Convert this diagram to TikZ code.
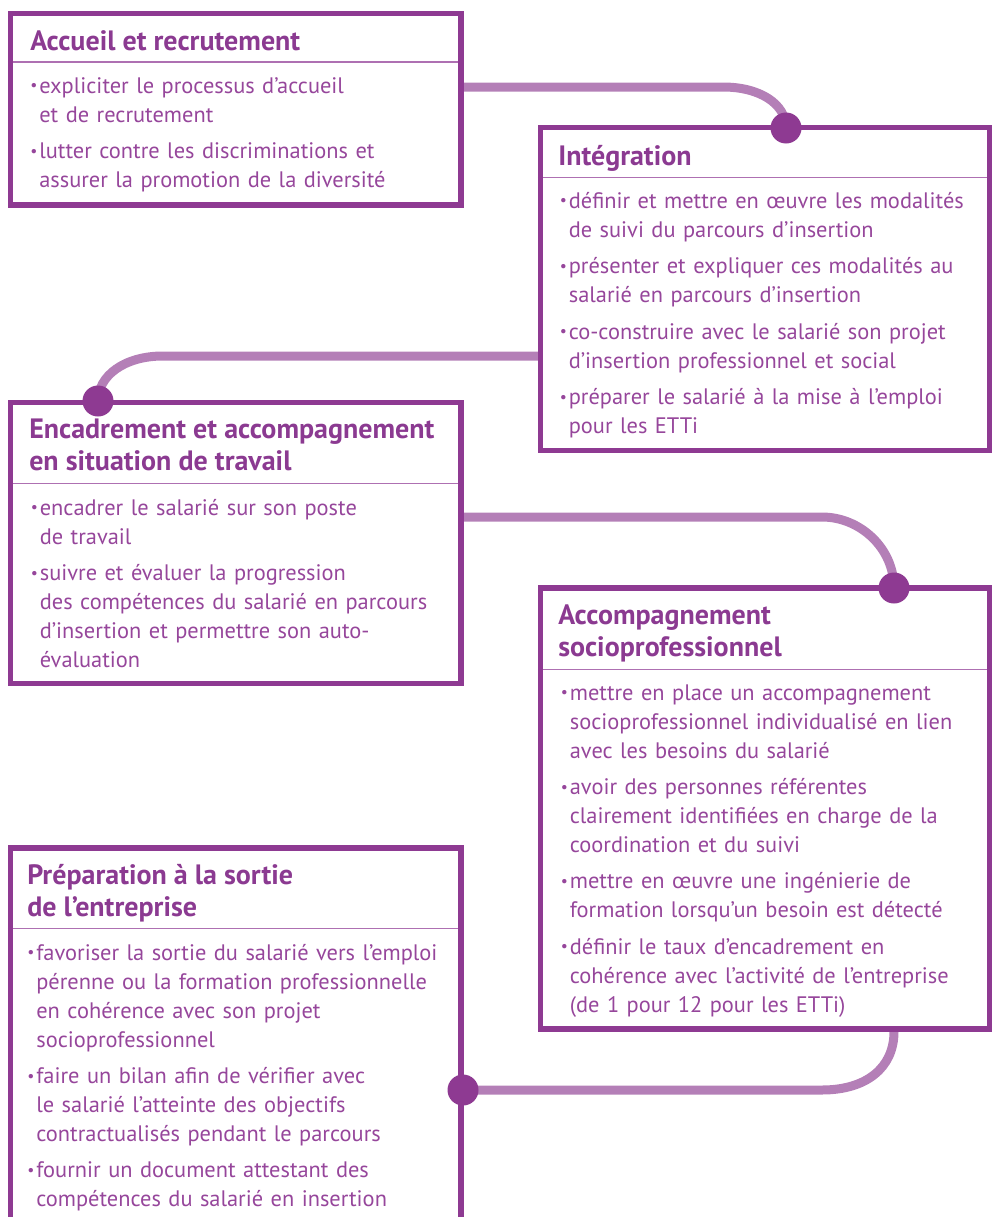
\documentclass[tikz,border=0pt]{standalone}
\usepackage{fontspec}
\setmainfont{PT Sans}
\usepackage{graphicx}
\usetikzlibrary{fit, backgrounds}
\definecolor{cadre}{HTML}{8E3A92}
\definecolor{lienc}{HTML}{B47FB7}
\definecolor{titrec}{HTML}{8B3A91}
\definecolor{textec}{HTML}{96469B}
\definecolor{filetc}{HTML}{AE70B2}
\newlength\pucew
\setlength\pucew{6.8pt}
\newcommand\puce[1]{\hangindent=\pucew\hangafter=1
  \makebox[\pucew][l]{\raisebox{.22ex}{\scalebox{.7}{\textbullet}}}#1\par}

\begin{document}
\begin{tikzpicture}[x=0.75pt, y=-0.75pt,
  box/.style={draw=cadre, line width=4pt, inner sep=0pt},
  titre/.style={anchor=base west, align=left, inner sep=0pt, text=titrec,
    font=\fontsize{21}{23.8}\selectfont\bfseries},
  corps/.style={anchor=base west, inner sep=0pt, text width=345pt, align=left,
    text=textec, font=\fontsize{16.8}{21.75}\selectfont,
    execute at begin node={\setlength{\parskip}{5.6pt}\hyphenpenalty=10000}},
  filet/.style={draw=filetc, line width=1pt},
  lien/.style={draw=lienc, line width=6.75pt},
  point/.style={circle, fill=cadre, minimum size=23.25pt, inner sep=0pt}]

\useasboundingbox (0,0) rectangle (992,1217);
\clip (0,0) rectangle (992,1217);

\node[box, fit={(10.5,13.5) (461,205)}] (Acc) {};
\node[box, fit={(540.5,127.5) (990,450.5)}] (Int) {};
\node[box, fit={(10.5,402.5) (461,683.5)}] (Enc) {};
\node[box, fit={(540.5,588) (990,1029)}] (Soc) {};
\node[box, fit={(10.5,848) (461,1240)}] (Prep) {};

\begin{scope}[on background layer]
\foreach \b/\y in {Acc/62, Int/177.3, Enc/483.3, Soc/669.3, Prep/928.3}
  \draw[filet] (\b.west |- 0,\y) -- (\b.east |- 0,\y);
\end{scope}

\node[point] (dInt) at (786,128) {};
\node[point] (dEnc) at (98,401) {};
\node[point] (dSoc) at (894,588) {};
\node[point] (dPrep) at (463,1090) {};

\begin{scope}[on background layer]
\draw[lien] (Acc.east |- 0,87) -- (723,87)
  .. controls (760,87) and (786,104) .. (dInt.center);
\draw[lien] (Int.west |- 0,356) -- (163,356)
  .. controls (124,356) and (98,376) .. (dEnc.center);
\draw[lien] (Enc.east |- 0,517) -- (822,517)
  .. controls (860,517) and (894,548) .. (dSoc.center);
\draw[lien] (Soc.south -| dSoc) .. controls (894,1068) and (866,1090)
  .. (822,1090) -- (dPrep.center);
\end{scope}

\node[titre] (tAcc) at (30,50) {Accueil et recrutement};
\node[corps] (cAcc) at (30,93) {\puce{expliciter le processus d’accueil\newline et de recrutement}
  \puce{lutter contre les discriminations et\newline assurer la promotion de la diversité}};

\node[titre] (tInt) at (558,165) {Intégration};
\node[corps] (cInt) at (559.5,208.3) {\puce{définir et mettre en œuvre les modalités\newline de suivi du parcours d’insertion}
  \puce{présenter et expliquer ces modalités au\newline salarié en parcours d’insertion}
  \puce{co-construire avec le salarié son projet\newline d’insertion professionnel et social}
  \puce{préparer le salarié à la mise à l’emploi\newline pour les ETTi}};

\node[titre] (tEnc) at (29,470.7) {Encadrement et accompagnement\\en situation de travail};
\node[corps] (cEnc) at (30.5,515) {\puce{encadrer le salarié sur son poste\newline de travail}
  \puce{suivre et évaluer la progression\newline des compétences du salarié en parcours\newline d’insertion et permettre son auto-\newline évaluation}};

\node[titre] (tSoc) at (558,656.7) {Accompagnement\\socioprofessionnel};
\node[corps] (cSoc) at (560.5,700) {\puce{mettre en place un accompagnement\newline socioprofessionnel individualisé en lien\newline avec les besoins du salarié}
  \puce{avoir des personnes référentes\newline clairement identifiées en charge de la\newline coordination et du suivi}
  \puce{mettre en œuvre une ingénierie de\newline formation lorsqu’un besoin est détecté}
  \puce{définir le taux d’encadrement en\newline cohérence avec l’activité de l’entreprise\newline (de 1 pour 12 pour les ETTi)}};

\node[titre] (tPrep) at (27,916.7) {Préparation à la sortie\\de l’entreprise};
\node[corps] (cPrep) at (27,960) {\puce{favoriser la sortie du salarié vers l’emploi\newline pérenne ou la formation professionnelle\newline en cohérence avec son projet\newline socioprofessionnel}
  \puce{faire un bilan afin de vérifier avec\newline le salarié l’atteinte des objectifs\newline contractualisés pendant le parcours}
  \puce{fournir un document attestant des\newline compétences du salarié en insertion}};
\end{tikzpicture}
\end{document}
